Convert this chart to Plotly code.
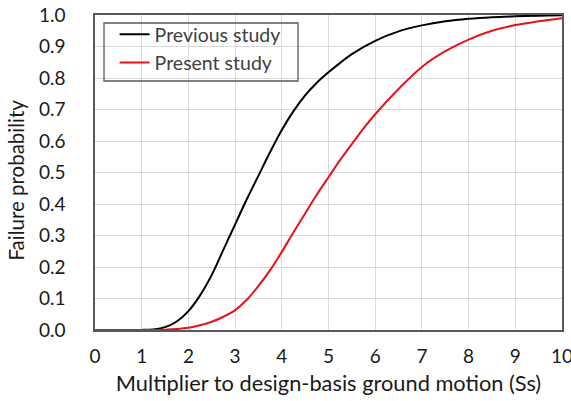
import plotly.graph_objects as go

x_prev = [0, 0.5, 0.75, 1.0, 1.25, 1.5, 1.75, 2.0, 2.25, 2.5, 2.75, 3.0, 3.25, 3.5, 3.75,
          4.0, 4.25, 4.5, 4.75, 5.0, 5.5, 6.0, 6.5, 7.0, 7.5, 8.0, 8.5, 9.0, 9.5, 10.0]
p_prev = [0, 0, 0, 0.0003, 0.002, 0.009, 0.027, 0.06, 0.11, 0.175, 0.255, 0.335, 0.415, 0.49, 0.565,
          0.635, 0.695, 0.745, 0.785, 0.818, 0.876, 0.918, 0.948, 0.967, 0.98, 0.988, 0.993, 0.996, 0.998, 0.999]

x_pres = [0, 1.0, 1.5, 1.75, 2.0, 2.25, 2.5, 2.75, 3.0, 3.25, 3.5, 3.75, 4.0, 4.25, 4.5,
          4.75, 5.0, 5.25, 5.5, 5.75, 6.0, 6.5, 7.0, 7.5, 8.0, 8.5, 9.0, 9.5, 10.0]
p_pres = [0, 0, 0.001, 0.003, 0.007, 0.015, 0.026, 0.042, 0.063, 0.096, 0.14, 0.19, 0.248, 0.31, 0.37,
          0.43, 0.485, 0.54, 0.59, 0.64, 0.685, 0.765, 0.835, 0.885, 0.922, 0.95, 0.968, 0.98, 0.99]

x_ticks = list(range(0, 11))
y_ticks = [round(i * 0.1, 1) for i in range(11)]
y_tick_labels = [f"{v:.1f}" for v in y_ticks]

font_family = "Lato, 'Open Sans', sans-serif"

fig = go.Figure()
fig.add_trace(go.Scatter(x=x_prev, y=p_prev, mode="lines", name="Previous study",
                         line=dict(color="black", width=2, shape="spline", smoothing=1)))
fig.add_trace(go.Scatter(x=x_pres, y=p_pres, mode="lines", name="Present study",
                         line=dict(color="#e8121a", width=2, shape="spline", smoothing=1)))

# legend frame
fig.add_shape(type="rect", xref="paper", yref="paper",
              x0=0.0193, x1=0.4347, y0=0.7905, y1=0.9746,
              line=dict(color="#595959", width=1.3), fillcolor="rgba(0,0,0,0)", layer="above")

# y-axis title
fig.add_annotation(text="Failure probability", xref="paper", yref="paper",
                   x=-0.168, y=0.476, xanchor="center", yanchor="middle",
                   textangle=-90, showarrow=False, font=dict(size=20.5, color="#1a1a1a"))

fig.update_layout(
    width=571, height=401,
    margin=dict(l=95, r=9, t=15, b=71),
    paper_bgcolor="white", plot_bgcolor="white",
    font=dict(family=font_family, size=19, color="#1a1a1a"),
    showlegend=True,
    legend=dict(x=0.042, y=1.0, xanchor="left", yanchor="top",
                bgcolor="rgba(0,0,0,0)", borderwidth=0,
                font=dict(size=19.5, color="#404040"), itemwidth=30),
    xaxis=dict(range=[0, 10], tickvals=x_ticks, ticktext=[str(v) for v in x_ticks],
               showgrid=True, gridcolor="#d9d9d9", gridwidth=1, automargin=False,
               ticklabeloverflow="allow",
               showline=True, linecolor="#595959", linewidth=1.5, mirror=True,
               zeroline=False, ticks="", ticklabelstandoff=8,
               title=dict(text="Multiplier to design-basis ground motion (Ss)",
                          font=dict(size=21.8), standoff=10)),
    yaxis=dict(range=[0, 1], tickvals=y_ticks, ticktext=y_tick_labels,
               showgrid=True, gridcolor="#d9d9d9", gridwidth=1, automargin=False,
               showline=True, linecolor="#595959", linewidth=1.5, mirror=True,
               zeroline=False, ticks="", ticklabelstandoff=24),
)

fig.write_html("out.html")
